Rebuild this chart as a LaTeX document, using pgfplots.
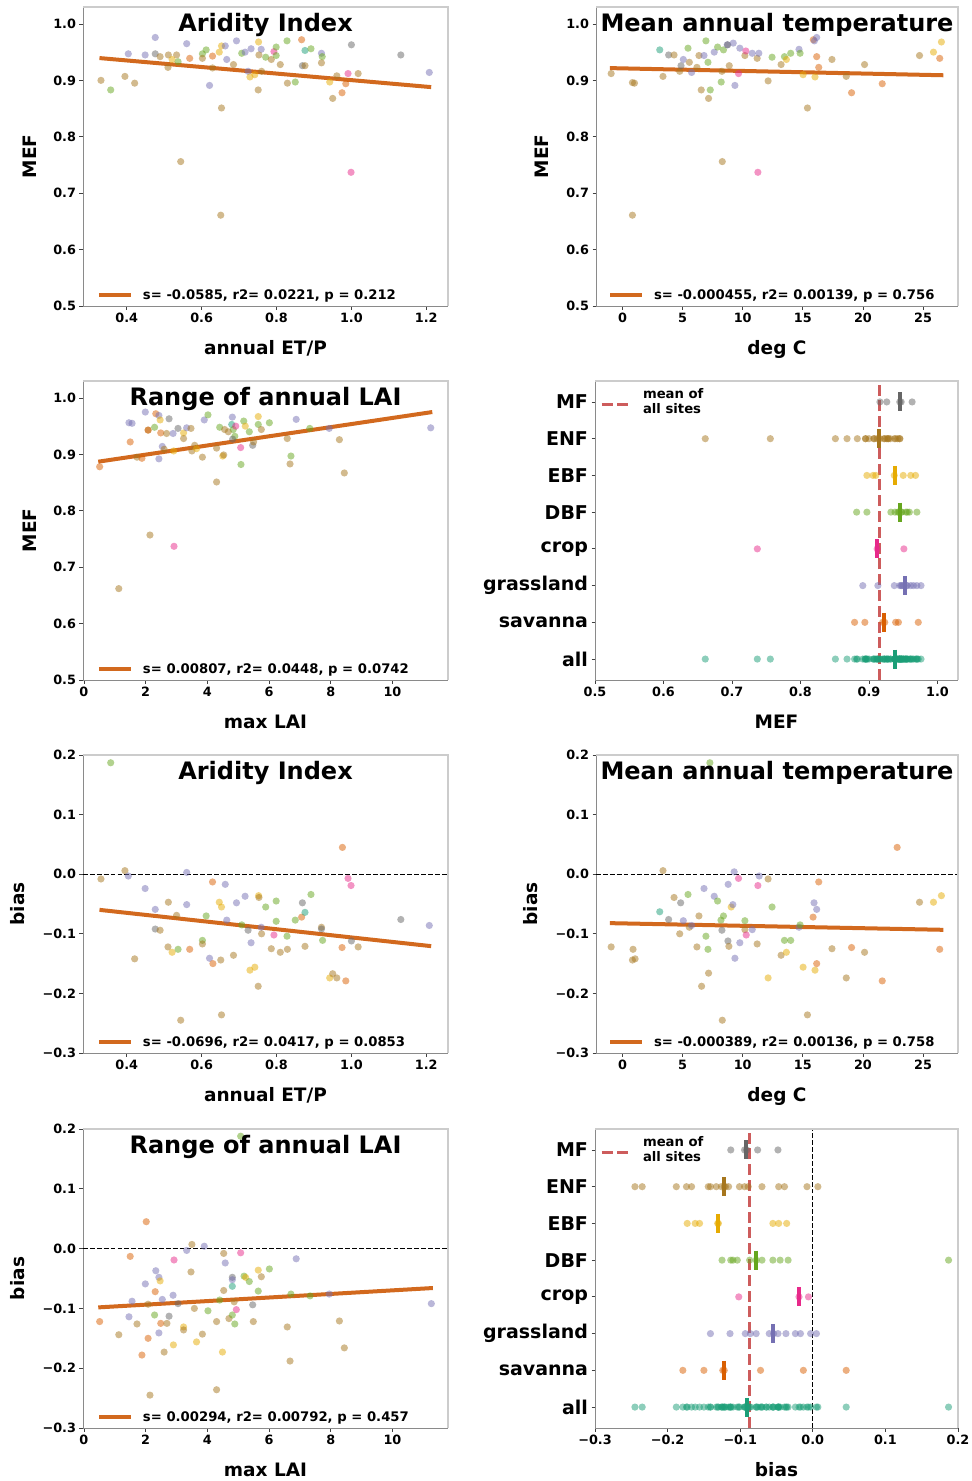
\documentclass[border=0pt]{standalone}
\usepackage{fontspec}
\setmainfont{DejaVu Sans}
\usepackage{pgfplots}
\usepackage{pgfplotstable}
\pgfplotsset{compat=1.18}

\definecolor{cAll}{HTML}{1B9E77}
\definecolor{cSav}{HTML}{D95F02}
\definecolor{cGra}{HTML}{7570B3}
\definecolor{cCrop}{HTML}{E7298A}
\definecolor{cDBF}{HTML}{66A61E}
\definecolor{cEBF}{HTML}{E6AB02}
\definecolor{cENF}{HTML}{A6761D}
\definecolor{cMF}{HTML}{666666}
\definecolor{fitline}{HTML}{D2691E}
\definecolor{meanred}{HTML}{CD5C5C}
\definecolor{spdark}{HTML}{8A8A8A}
\definecolor{splight}{HTML}{CCCCCC}

\tikzset{dot/.style={draw=#1, fill=#1, draw opacity=0, fill opacity=0.5}}

\pgfplotsset{
  panel/.style={
    scale only axis, width=365pt, height=299pt,
    axis lines=left, axis line style={-, draw=spdark, line width=0.9pt},
    tick align=outside, major tick length=3.5pt,
    tick style={draw=black!75, line width=0.8pt},
    ticklabel style={font=\fontsize{12.8}{15}\selectfont\bfseries},
    /pgf/number format/assume math mode=true,
    every axis x label/.style={at={([yshift=-48pt]axis description cs:0.5,0)}, anchor=base,
      font=\fontsize{18.5}{22}\selectfont\bfseries},
    every axis y label/.style={at={([xshift=-46pt]axis description cs:0,0.5)}, rotate=90, anchor=base,
      font=\fontsize{18.5}{22}\selectfont\bfseries},
    every axis title/.style={at={([yshift=-24.7pt]axis description cs:0.5,1)}, anchor=base,
      font=\fontsize{24}{28}\selectfont\bfseries},
    extra description/.code={\draw[splight, line width=1.2pt] (0,1) -- (1,1) -- (1,0);},
    legend style={draw=none, fill=none, inner sep=0pt, outer sep=0pt, column sep=10pt,
      nodes={inner sep=0pt}, font=\fontsize{13.2}{15.3}\selectfont\bfseries,
      at={([xshift=14pt,yshift=5pt]axis description cs:0,0)}, anchor=south west},
    legend cell align=left,
    legend image code/.code={\draw[##1] (0pt,0.5pt) -- (32pt,0.5pt);},
  },
  strip/.style={panel, width=363pt,
    ymin=-0.57, ymax=7.57, ytick={0,1,2,3,4,5,6,7},
    yticklabels={all,savanna,grassland,crop,DBF,EBF,ENF,MF},
    yticklabel style={font=\fontsize{19}{22}\selectfont\bfseries},
    legend style={at={([xshift=5pt,yshift=-7pt]axis description cs:0,1)}, anchor=north west,
      column sep=12pt, cells={align=left}},
    legend image code/.code={\draw[##1] (0pt,-3pt) -- (28pt,-3pt);},
  },
  scat/.style={only marks, scatter, scatter src=explicit symbolic, mark=*, mark size=3.6pt,
    scatter/classes={MF={dot=cMF}, ENF={dot=cENF}, EBF={dot=cEBF}, DBF={dot=cDBF},
      crop={dot=cCrop}, grass={dot=cGra}, sav={dot=cSav}, oth={dot=cAll}},
    forget plot},
  allrow/.style={only marks, mark=*, mark size=3.6pt, mark options={dot=cAll}, forget plot},
  medbar/.style={only marks, scatter, scatter src=explicit symbolic, mark=|, mark size=9.5pt,
    mark options={line width=4pt},
    scatter/classes={MF={draw=cMF}, ENF={draw=cENF}, EBF={draw=cEBF}, DBF={draw=cDBF},
      crop={draw=cCrop}, grass={draw=cGra}, sav={draw=cSav}, oth={draw=cAll}},
    forget plot},
  fit/.style={fitline, line width=4pt},
  zero/.style={black, line width=1.3pt, dash pattern=on 4.8pt off 2.1pt, forget plot},
  meanl/.style={meanred, line width=3pt, dash pattern=on 11pt off 4.8pt},
}

% MEF against aridity index (annual ET/P)
\pgfplotstableread{
x y c
0.331 0.900 ENF
0.357 0.883 DBF
0.395 0.907 ENF
0.421 0.895 ENF
0.404 0.947 grass
0.449 0.945 grass
0.476 0.976 grass
0.476 0.947 MF
0.489 0.942 ENF
0.511 0.945 ENF
0.533 0.945 ENF
0.521 0.937 EBF
0.537 0.933 DBF
0.510 0.923 ENF
0.560 0.965 grass
0.568 0.939 sav
0.544 0.756 ENF
0.602 0.947 DBF
0.612 0.954 DBF
0.602 0.939 ENF
0.629 0.943 sav
0.629 0.922 ENF
0.621 0.891 grass
0.647 0.950 EBF
0.653 0.961 EBF
0.663 0.961 grass
0.653 0.851 ENF
0.651 0.661 ENF
0.667 0.937 grass
0.685 0.928 ENF
0.693 0.970 grass
0.707 0.948 DBF
0.716 0.950 grass
0.732 0.956 grass
0.724 0.916 grass
0.729 0.906 EBF
0.742 0.910 EBF
0.752 0.968 EBF
0.759 0.955 grass
0.753 0.945 ENF
0.760 0.916 ENF
0.751 0.883 ENF
0.771 0.941 DBF
0.786 0.937 ENF
0.793 0.951 crop
0.799 0.959 DBF
0.799 0.944 DBF
0.810 0.928 ENF
0.828 0.970 DBF
0.829 0.895 ENF
0.850 0.897 DBF
0.867 0.972 sav
0.876 0.953 oth
0.892 0.956 DBF
0.869 0.926 MF
0.876 0.926 ENF
0.920 0.948 grass
0.922 0.942 DBF
0.920 0.931 ENF
0.942 0.897 EBF
0.950 0.868 ENF
0.961 0.908 ENF
0.975 0.878 sav
0.985 0.894 sav
0.991 0.912 crop
0.999 0.737 crop
1.000 0.963 MF
1.018 0.912 ENF
1.132 0.945 MF
1.208 0.914 grass
}\tabA

% MEF against mean annual temperature
\pgfplotstableread{
x y c
-0.94 0.912 ENF
0.83 0.896 ENF
1.00 0.895 ENF
0.83 0.661 ENF
3.10 0.954 oth
3.37 0.907 ENF
3.84 0.945 MF
4.29 0.945 ENF
4.76 0.916 ENF
4.87 0.926 MF
5.06 0.937 grass
5.45 0.957 DBF
5.56 0.932 ENF
5.75 0.914 grass
6.19 0.923 ENF
6.36 0.944 ENF
6.55 0.883 ENF
6.78 0.944 grass
6.94 0.970 DBF
7.11 0.932 DBF
7.16 0.868 ENF
7.30 0.883 DBF
7.63 0.950 grass
7.91 0.959 DBF
8.21 0.897 DBF
8.27 0.916 ENF
8.30 0.756 ENF
8.40 0.954 DBF
8.71 0.963 grass
8.75 0.963 MF
8.88 0.926 ENF
9.21 0.966 grass
9.35 0.891 grass
9.65 0.912 crop
9.76 0.957 grass
10.18 0.944 ENF
10.26 0.952 crop
10.79 0.948 grass
11.20 0.939 ENF
11.26 0.737 crop
11.34 0.948 grass
12.11 0.899 ENF
12.44 0.941 DBF
13.19 0.928 ENF
13.47 0.942 DBF
13.63 0.937 EBF
13.99 0.948 DBF
14.68 0.955 grass
14.77 0.948 DBF
15.02 0.910 EBF
15.38 0.851 ENF
15.87 0.972 sav
15.96 0.970 grass
16.15 0.976 grass
16.15 0.942 sav
16.01 0.906 EBF
16.32 0.923 sav
17.42 0.937 ENF
18.61 0.907 ENF
19.05 0.878 sav
20.13 0.928 ENF
21.60 0.894 sav
24.70 0.944 ENF
25.86 0.950 EBF
26.38 0.939 sav
26.52 0.968 EBF
}\tabB

% MEF against max LAI
\pgfplotstableread{
x y c
0.51 0.878 sav
1.13 0.662 ENF
1.46 0.956 grass
1.56 0.955 grass
1.50 0.922 sav
1.72 0.895 ENF
1.88 0.893 sav
1.99 0.975 grass
2.08 0.943 ENF
2.08 0.943 sav
2.14 0.757 ENF
2.29 0.948 DBF
2.33 0.972 sav
2.43 0.969 grass
2.47 0.961 EBF
2.49 0.938 sav
2.43 0.892 grass
2.54 0.914 grass
2.60 0.909 ENF
2.68 0.937 ENF
2.76 0.963 MF
2.89 0.937 grass
2.92 0.737 crop
2.91 0.906 EBF
3.05 0.946 MF
3.23 0.938 EBF
3.23 0.928 ENF
3.33 0.947 grass
3.47 0.946 ENF
3.50 0.906 ENF
3.59 0.916 ENF
3.65 0.910 EBF
3.84 0.895 ENF
3.90 0.961 grass
4.02 0.970 DBF
4.30 0.911 ENF
4.30 0.851 ENF
4.40 0.948 DBF
4.50 0.897 EBF
4.53 0.899 ENF
4.56 0.944 ENF
4.68 0.940 ENF
4.81 0.966 grass
4.79 0.953 oth
4.84 0.944 DBF
4.89 0.932 DBF
4.92 0.950 crop
4.82 0.927 MF
5.08 0.912 crop
5.09 0.882 DBF
5.18 0.959 DBF
5.23 0.950 EBF
5.36 0.940 DBF
5.47 0.916 MF
5.50 0.922 ENF
5.65 0.967 EBF
5.65 0.953 DBF
5.75 0.944 ENF
6.01 0.956 DBF
6.59 0.928 ENF
6.68 0.883 ENF
6.71 0.897 DBF
6.88 0.962 grass
7.32 0.946 DBF
7.95 0.946 grass
8.28 0.926 ENF
8.44 0.867 ENF
11.24 0.947 grass
}\tabC

% MEF by vegetation class (row index: 7 = MF ... 1 = savanna, 0 = all)
\pgfplotstableread{
x y c
0.916 7 MF
0.926 7 MF
0.945 7 MF
0.947 7 MF
0.963 7 MF
0.661 6 ENF
0.756 6 ENF
0.851 6 ENF
0.868 6 ENF
0.883 6 ENF
0.895 6 ENF
0.895 6 ENF
0.900 6 ENF
0.907 6 ENF
0.908 6 ENF
0.912 6 ENF
0.916 6 ENF
0.922 6 ENF
0.923 6 ENF
0.926 6 ENF
0.928 6 ENF
0.928 6 ENF
0.931 6 ENF
0.937 6 ENF
0.939 6 ENF
0.942 6 ENF
0.945 6 ENF
0.945 6 ENF
0.897 5 EBF
0.906 5 EBF
0.910 5 EBF
0.937 5 EBF
0.950 5 EBF
0.961 5 EBF
0.968 5 EBF
0.882 4 DBF
0.897 4 DBF
0.932 4 DBF
0.938 4 DBF
0.942 4 DBF
0.944 4 DBF
0.947 4 DBF
0.948 4 DBF
0.954 4 DBF
0.956 4 DBF
0.959 4 DBF
0.970 4 DBF
0.737 3 crop
0.912 3 crop
0.951 3 crop
0.891 2 grass
0.913 2 grass
0.937 2 grass
0.945 2 grass
0.947 2 grass
0.948 2 grass
0.950 2 grass
0.955 2 grass
0.956 2 grass
0.961 2 grass
0.965 2 grass
0.970 2 grass
0.976 2 grass
0.879 1 sav
0.894 1 sav
0.920 1 sav
0.923 1 sav
0.939 1 sav
0.943 1 sav
0.972 1 sav
0.953 0 oth
}\tabD

\pgfplotstableread{
x y c
0.945 7 MF
0.915 6 ENF
0.938 5 EBF
0.946 4 DBF
0.912 3 crop
0.952 2 grass
0.922 1 sav
0.938 0 oth
}\medD

% bias against aridity index
\pgfplotstableread{
x y c
0.331 -0.008 ENF
0.357 0.187 DBF
0.395 0.006 ENF
0.404 -0.003 grass
0.421 -0.142 ENF
0.449 -0.024 grass
0.476 -0.059 grass
0.476 -0.092 MF
0.489 -0.094 ENF
0.511 -0.047 ENF
0.510 -0.122 ENF
0.521 -0.131 EBF
0.533 -0.069 ENF
0.537 -0.126 DBF
0.544 -0.245 ENF
0.560 0.003 grass
0.560 -0.051 grass
0.568 -0.126 sav
0.602 -0.111 DBF
0.602 -0.117 ENF
0.612 -0.070 DBF
0.621 -0.141 grass
0.629 -0.013 sav
0.630 -0.150 sav
0.647 -0.047 EBF
0.653 -0.055 EBF
0.651 -0.144 ENF
0.653 -0.236 ENF
0.663 -0.017 grass
0.667 -0.077 grass
0.685 -0.136 ENF
0.693 -0.048 grass
0.707 -0.085 DBF
0.716 -0.037 grass
0.724 -0.094 MF
0.732 -0.115 grass
0.729 -0.161 EBF
0.742 -0.156 EBF
0.752 -0.036 EBF
0.753 -0.039 ENF
0.751 -0.188 ENF
0.759 -0.089 grass
0.760 -0.100 ENF
0.771 -0.055 DBF
0.786 -0.125 ENF
0.793 -0.102 crop
0.799 -0.045 DBF
0.799 -0.079 DBF
0.810 -0.131 ENF
0.828 -0.104 DBF
0.829 -0.126 ENF
0.850 -0.077 DBF
0.867 -0.072 sav
0.876 -0.064 oth
0.869 -0.048 MF
0.876 -0.121 ENF
0.892 -0.034 DBF
0.920 -0.089 ENF
0.920 -0.092 MF
0.923 -0.111 DBF
0.942 -0.174 EBF
0.950 -0.167 ENF
0.961 -0.174 ENF
0.975 -0.123 sav
0.976 0.045 sav
0.985 -0.179 sav
0.991 -0.007 crop
0.999 -0.019 crop
1.000 -0.112 MF
1.018 -0.122 ENF
1.132 -0.076 MF
1.208 -0.086 grass
}\tabE

% bias against mean annual temperature
\pgfplotstableread{
x y c
-0.94 -0.122 ENF
0.88 -0.126 ENF
0.83 -0.144 ENF
1.05 -0.142 ENF
3.10 -0.063 oth
3.37 0.006 ENF
3.84 -0.076 MF
4.29 -0.039 ENF
4.76 -0.100 ENF
4.84 -0.048 MF
5.06 -0.078 grass
5.45 -0.034 DBF
5.56 -0.089 ENF
5.75 -0.086 grass
6.19 -0.122 ENF
6.36 -0.070 ENF
6.58 -0.188 ENF
6.78 -0.024 grass
6.94 -0.104 DBF
7.11 -0.126 DBF
7.16 -0.166 ENF
7.27 0.187 DBF
7.63 -0.037 grass
7.91 -0.045 DBF
8.19 -0.077 DBF
8.40 -0.070 DBF
8.27 -0.094 MF
8.30 -0.245 ENF
8.79 -0.017 grass
8.77 -0.112 MF
8.85 -0.121 ENF
9.04 -0.055 EBF
9.18 -0.051 grass
9.29 0.004 grass
9.35 -0.141 grass
9.65 -0.007 crop
9.76 -0.115 grass
10.18 -0.078 DBF
10.18 -0.093 ENF
10.29 -0.102 crop
10.79 -0.093 grass
11.20 -0.117 ENF
11.26 -0.019 crop
11.37 -0.003 grass
12.11 -0.008 ENF
12.11 -0.174 EBF
12.44 -0.055 DBF
13.19 -0.136 ENF
13.47 -0.111 DBF
13.99 -0.111 DBF
13.63 -0.131 EBF
14.68 -0.089 grass
14.77 -0.085 DBF
15.02 -0.156 EBF
15.38 -0.236 ENF
15.85 -0.072 sav
15.93 -0.048 grass
16.15 -0.059 grass
16.01 -0.161 EBF
16.15 -0.150 sav
16.32 -0.013 sav
17.42 -0.125 ENF
18.61 -0.174 ENF
19.05 -0.123 sav
20.13 -0.131 ENF
21.60 -0.179 sav
22.84 0.045 sav
24.70 -0.047 ENF
25.86 -0.047 EBF
26.52 -0.036 EBF
26.38 -0.126 sav
}\tabF

% bias against max LAI
\pgfplotstableread{
x y c
0.51 -0.122 sav
1.13 -0.144 ENF
1.46 -0.114 grass
1.50 -0.013 sav
1.56 -0.088 grass
1.72 -0.126 ENF
1.88 -0.178 sav
1.99 -0.059 grass
2.02 0.045 sav
2.08 -0.150 sav
2.08 -0.093 ENF
2.14 -0.245 ENF
2.29 -0.111 DBF
2.31 -0.072 sav
2.33 -0.037 grass
2.43 -0.048 grass
2.47 -0.054 EBF
2.43 -0.141 grass
2.49 -0.125 sav
2.54 -0.085 grass
2.60 -0.173 ENF
2.69 -0.125 ENF
2.76 -0.113 MF
2.89 -0.078 grass
2.90 -0.161 EBF
2.92 -0.019 crop
3.05 -0.092 MF
3.23 -0.131 EBF
3.23 -0.136 ENF
3.33 -0.003 grass
3.47 -0.039 ENF
3.50 0.007 ENF
3.58 -0.100 ENF
3.65 -0.156 EBF
3.84 -0.143 ENF
3.90 0.004 grass
4.02 -0.104 DBF
4.30 -0.122 ENF
4.30 -0.236 ENF
4.40 -0.086 DBF
4.49 -0.173 EBF
4.53 -0.008 ENF
4.53 -0.070 ENF
4.58 -0.024 grass
4.70 -0.117 ENF
4.81 -0.048 MF
4.81 -0.052 grass
4.81 -0.063 oth
4.81 -0.111 DBF
4.87 -0.089 ENF
4.89 -0.126 DBF
4.94 -0.102 crop
5.08 -0.007 crop
5.08 0.188 DBF
5.19 -0.046 DBF
5.24 -0.048 EBF
5.36 -0.055 DBF
5.47 -0.094 MF
5.49 -0.122 ENF
5.65 -0.036 EBF
5.65 -0.071 DBF
5.75 -0.047 ENF
6.01 -0.034 DBF
6.59 -0.131 ENF
6.68 -0.188 ENF
6.71 -0.076 DBF
6.88 -0.017 grass
7.33 -0.079 DBF
7.95 -0.076 grass
8.28 -0.121 ENF
8.44 -0.166 ENF
11.26 -0.092 grass
}\tabG

% bias by vegetation class
\pgfplotstableread{
x y c
-0.113 7 MF
-0.094 7 MF
-0.091 7 MF
-0.076 7 MF
-0.048 7 MF
-0.245 6 ENF
-0.235 6 ENF
-0.188 6 ENF
-0.174 6 ENF
-0.167 6 ENF
-0.144 6 ENF
-0.141 6 ENF
-0.133 6 ENF
-0.126 6 ENF
-0.122 6 ENF
-0.120 6 ENF
-0.116 6 ENF
-0.101 6 ENF
-0.094 6 ENF
-0.089 6 ENF
-0.070 6 ENF
-0.047 6 ENF
-0.039 6 ENF
-0.008 6 ENF
0.007 6 ENF
-0.173 5 EBF
-0.162 5 EBF
-0.156 5 EBF
-0.131 5 EBF
-0.130 5 EBF
-0.055 5 EBF
-0.047 5 EBF
-0.036 5 EBF
-0.125 4 DBF
-0.113 4 DBF
-0.110 4 DBF
-0.104 4 DBF
-0.087 4 DBF
-0.078 4 DBF
-0.070 4 DBF
-0.055 4 DBF
-0.045 4 DBF
-0.034 4 DBF
0.187 4 DBF
-0.102 3 crop
-0.019 3 crop
-0.006 3 crop
-0.141 2 grass
-0.114 2 grass
-0.093 2 grass
-0.086 2 grass
-0.078 2 grass
-0.060 2 grass
-0.054 2 grass
-0.048 2 grass
-0.037 2 grass
-0.024 2 grass
-0.017 2 grass
-0.003 2 grass
0.005 2 grass
-0.179 1 sav
-0.150 1 sav
-0.124 1 sav
-0.122 1 sav
-0.072 1 sav
-0.013 1 sav
0.046 1 sav
-0.064 0 oth
}\tabH

\pgfplotstableread{
x y c
-0.092 7 MF
-0.122 6 ENF
-0.130 5 EBF
-0.078 4 DBF
-0.019 3 crop
-0.055 2 grass
-0.123 1 sav
-0.091 0 oth
}\medH

\begin{document}
\begin{tikzpicture}
\useasboundingbox (0pt,0pt) rectangle (972pt,-1481pt);

% ---------- row 1 ----------
\begin{axis}[panel, at={(83pt,-306pt)}, anchor=south west,
  xmin=0.283, xmax=1.258, ymin=0.5, ymax=1.03,
  xtick={0.4,0.6,0.8,1.0,1.2}, xticklabels={0.4,0.6,0.8,1.0,1.2},
  ytick={0.5,0.6,0.7,0.8,0.9,1.0}, yticklabels={0.5,0.6,0.7,0.8,0.9,1.0},
  xlabel={annual ET/P}, ylabel={MEF}, title={Aridity Index}]
\addplot[scat] table[x=x, y=y, meta=c] {\tabA};
\addplot[fit] coordinates {(0.327,0.9395) (1.213,0.888)};
\addlegendentry{s= -0.0585, r2= 0.0221, p = 0.212}
\end{axis}

\begin{axis}[panel, width=362pt, at={(596pt,-306pt)}, anchor=south west,
  xmin=-2.2, xmax=27.9, ymin=0.5, ymax=1.03,
  xtick={0,5,10,15,20,25}, xticklabels={0,5,10,15,20,25},
  ytick={0.5,0.6,0.7,0.8,0.9,1.0}, yticklabels={0.5,0.6,0.7,0.8,0.9,1.0},
  xlabel={deg C}, ylabel={MEF}, title={Mean annual temperature},
  ylabel style={at={([xshift=-48pt]axis description cs:0,0.5)}},
  legend style={at={([xshift=12pt,yshift=5pt]axis description cs:0,0)}}]
\addplot[scat] table[x=x, y=y, meta=c] {\tabB};
\addplot[fit] coordinates {(-1.05,0.9217) (26.69,0.909)};
\addlegendentry{s= -0.000455, r2= 0.00139, p = 0.756}
\end{axis}

% ---------- row 2 ----------
\begin{axis}[panel, at={(83pt,-680pt)}, anchor=south west,
  xmin=-0.03, xmax=11.8, ymin=0.5, ymax=1.03,
  xtick={0,2,4,6,8,10}, xticklabels={0,2,4,6,8,10},
  ytick={0.5,0.6,0.7,0.8,0.9,1.0}, yticklabels={0.5,0.6,0.7,0.8,0.9,1.0},
  xlabel={max LAI}, ylabel={MEF}, title={Range of annual LAI}]
\addplot[scat] table[x=x, y=y, meta=c] {\tabC};
\addplot[fit] coordinates {(0.465,0.887) (11.29,0.975)};
\addlegendentry{s= 0.00807, r2= 0.0448, p = 0.0742}
\end{axis}

\begin{axis}[strip, at={(595pt,-680pt)}, anchor=south west,
  xmin=0.5, xmax=1.03,
  xtick={0.5,0.6,0.7,0.8,0.9,1.0}, xticklabels={0.5,0.6,0.7,0.8,0.9,1.0},
  xlabel={MEF}]
\addplot[scat] table[x=x, y=y, meta=c] {\tabD};
\addplot[allrow] table[x=x, y expr=0] {\tabD};
\addplot[medbar] table[x=x, y=y, meta=c] {\medD};
\addplot[meanl] coordinates {(0.916,-0.57) (0.916,7.57)};
\addlegendentry{mean of\\all sites}
\end{axis}

% ---------- row 3 ----------
\begin{axis}[panel, height=298pt, at={(83pt,-1053pt)}, anchor=south west,
  xmin=0.283, xmax=1.258, ymin=-0.3, ymax=0.2,
  xtick={0.4,0.6,0.8,1.0,1.2}, xticklabels={0.4,0.6,0.8,1.0,1.2},
  ytick={-0.3,-0.2,-0.1,0,0.1,0.2}, yticklabels={−0.3,−0.2,−0.1,0.0,0.1,0.2},
  xlabel={annual ET/P}, ylabel={bias}, title={Aridity Index},
  ylabel style={at={([xshift=-58pt]axis description cs:0,0.5)}}]
\addplot[zero] coordinates {(0.283,0) (1.258,0)};
\addplot[scat] table[x=x, y=y, meta=c] {\tabE};
\addplot[fit] coordinates {(0.327,-0.0598) (1.213,-0.1207)};
\addlegendentry{s= -0.0696, r2= 0.0417, p = 0.0853}
\end{axis}

\begin{axis}[panel, width=362pt, height=298pt, at={(596pt,-1053pt)}, anchor=south west,
  xmin=-2.2, xmax=27.9, ymin=-0.3, ymax=0.2,
  xtick={0,5,10,15,20,25}, xticklabels={0,5,10,15,20,25},
  ytick={-0.3,-0.2,-0.1,0,0.1,0.2}, yticklabels={−0.3,−0.2,−0.1,0.0,0.1,0.2},
  xlabel={deg C}, ylabel={bias}, title={Mean annual temperature},
  ylabel style={at={([xshift=-59pt]axis description cs:0,0.5)}},
  legend style={at={([xshift=12pt,yshift=5pt]axis description cs:0,0)}}]
\addplot[zero] coordinates {(-2.2,0) (27.9,0)};
\addplot[scat] table[x=x, y=y, meta=c] {\tabF};
\addplot[fit] coordinates {(-1.05,-0.0821) (26.69,-0.0933)};
\addlegendentry{s= -0.000389, r2= 0.00136, p = 0.758}
\end{axis}

% ---------- row 4 ----------
\begin{axis}[panel, at={(83pt,-1428pt)}, anchor=south west,
  xmin=-0.03, xmax=11.8, ymin=-0.3, ymax=0.2,
  xtick={0,2,4,6,8,10}, xticklabels={0,2,4,6,8,10},
  ytick={-0.3,-0.2,-0.1,0,0.1,0.2}, yticklabels={−0.3,−0.2,−0.1,0.0,0.1,0.2},
  xlabel={max LAI}, ylabel={bias}, title={Range of annual LAI},
  ylabel style={at={([xshift=-58pt]axis description cs:0,0.5)}}]
\addplot[zero] coordinates {(-0.03,0) (11.8,0)};
\addplot[scat] table[x=x, y=y, meta=c] {\tabG};
\addplot[fit] coordinates {(0.465,-0.0983) (11.31,-0.0659)};
\addlegendentry{s= 0.00294, r2= 0.00792, p = 0.457}
\end{axis}

\begin{axis}[strip, at={(595pt,-1428pt)}, anchor=south west,
  xmin=-0.3, xmax=0.2,
  xtick={-0.3,-0.2,-0.1,0,0.1,0.2}, xticklabels={−0.3,−0.2,−0.1,0.0,0.1,0.2},
  xlabel={bias}]
\addplot[scat] table[x=x, y=y, meta=c] {\tabH};
\addplot[allrow] table[x=x, y expr=0] {\tabH};
\addplot[medbar] table[x=x, y=y, meta=c] {\medH};
\addplot[zero] coordinates {(0,-0.57) (0,7.57)};
\addplot[meanl] coordinates {(-0.087,-0.57) (-0.087,7.57)};
\addlegendentry{mean of\\all sites}
\end{axis}
\end{tikzpicture}
\end{document}
